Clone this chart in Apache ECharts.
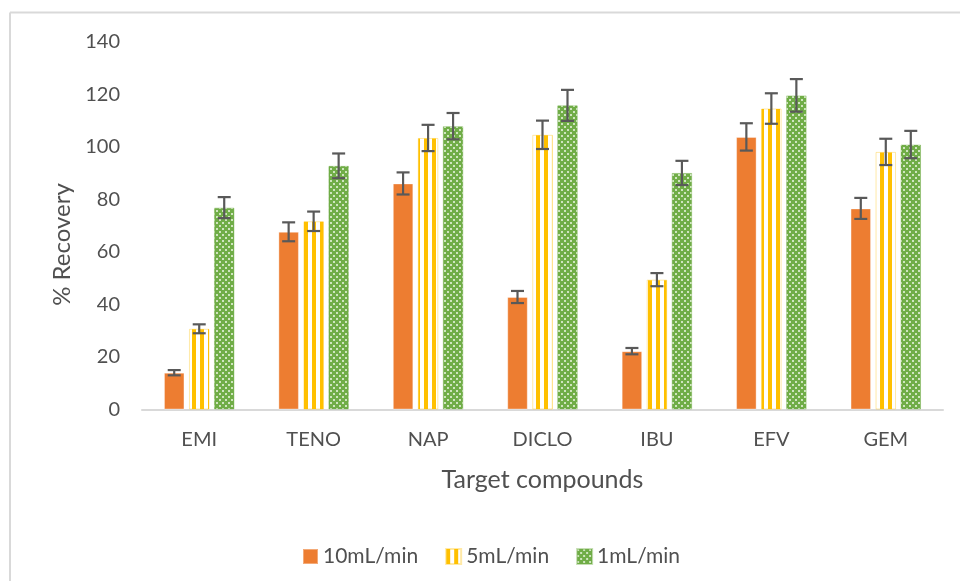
<!DOCTYPE html>
<html>
<head>
<meta charset="utf-8">
<script src="https://cdn.jsdelivr.net/npm/echarts@6/dist/echarts.min.js"></script>
<style>html,body{margin:0;padding:0;background:#fff}#c{width:960px;height:581px}</style>
</head>
<body>
<div id="c"></div>
<script>
const categories = ['EMI', 'TENO', 'NAP', 'DICLO', 'IBU', 'EFV', 'GEM'];
const seriesNames = ['10mL/min', '5mL/min', '1mL/min'];
const rec10 = [14, 67.6, 86, 42.8, 22.2, 103.7, 76.5];
const err10 = [1, 3.6, 4.2, 2.3, 1.2, 5.2, 4];
const rec5 = [30.7, 71.6, 103.3, 104.5, 49.4, 114.5, 98];
const err5 = [1.7, 3.7, 5, 5.4, 2.5, 5.8, 5];
const rec1 = [76.8, 92.7, 107.8, 115.7, 90, 119.5, 100.8];
const err1 = [4, 4.7, 5, 5.9, 4.6, 6.2, 5.2];
const yTicks = { min: 0, max: 140, interval: 20 };

const TXT = '#505050';
const FONT = 'Lato';

function stripePattern() {
  const c = document.createElement('canvas');
  c.width = 8; c.height = 8;
  const g = c.getContext('2d');
  g.fillStyle = '#ffffff'; g.fillRect(0, 0, 8, 8);
  g.fillStyle = '#FFC000'; g.fillRect(0, 0, 4, 8);
  return c;
}
function dotPattern() {
  const c = document.createElement('canvas');
  c.width = 6; c.height = 6;
  const g = c.getContext('2d');
  g.fillStyle = '#70AD47'; g.fillRect(0, 0, 6, 6);
  g.fillStyle = '#cfe5bf';
  g.fillRect(0, 0, 2, 2);
  g.fillRect(3, 3, 2, 2);
  return c;
}

const BAR_W = 20.5;
const BAR_GAP_PX = 4.5;
const step = BAR_W + BAR_GAP_PX;

const colors = [
  '#ED7D31',
  { image: stripePattern(), repeat: 'repeat' },
  { image: dotPattern(), repeat: 'repeat' }
];
const vals = [rec10, rec5, rec1];
const errs = [err10, err5, err1];

function errSeries(k) {
  const offset = (k - 1) * step;
  return {
    type: 'custom',
    z: 10,
    silent: true,
    data: vals[k].map((v, i) => [i, v, errs[k][i]]),
    renderItem: function (params, api) {
      const i = api.value(0), v = api.value(1), e = api.value(2);
      const t = api.coord([i, v + e]);
      const b = api.coord([i, v - e]);
      const x = t[0] + offset;
      const hw = 6.5;
      const st = { stroke: '#595959', lineWidth: 2.2 };
      return {
        type: 'group',
        children: [
          { type: 'line', shape: { x1: x, y1: t[1], x2: x, y2: b[1] }, style: st },
          { type: 'line', shape: { x1: x - hw, y1: t[1], x2: x + hw, y2: t[1] }, style: st },
          { type: 'line', shape: { x1: x - hw, y1: b[1], x2: x + hw, y2: b[1] }, style: st }
        ]
      };
    }
  };
}

const barSeries = seriesNames.map((n, k) => ({
  name: n,
  type: 'bar',
  data: vals[k],
  barWidth: BAR_W,
  barGap: (BAR_GAP_PX / BAR_W * 100) + '%',
  itemStyle: {
    color: colors[k],
    borderColor: k === 0 ? 'rgba(255,255,255,0.35)' : (k === 1 ? 'rgba(255,192,0,0.35)' : 'rgba(112,173,71,0.4)'),
    borderWidth: 1
  }
}));

const chart = echarts.init(document.getElementById('c'), null, { renderer: 'canvas' });
chart.setOption({
  animation: false,
  textStyle: { fontFamily: FONT, color: TXT },
  grid: { left: 142, right: 17, top: 41.5, bottom: 171.5 },
  legend: {
    data: seriesNames,
    left: 297,
    top: 541,
    itemWidth: 15,
    itemHeight: 15,
    itemGap: 27,
    icon: 'rect',
    textStyle: { fontFamily: FONT, fontSize: 21, color: TXT }
  },
  xAxis: {
    type: 'category',
    data: categories,
    name: 'Target compounds',
    nameLocation: 'middle',
    nameGap: 58,
    nameTextStyle: { fontFamily: FONT, fontSize: 25, color: TXT },
    axisLine: { lineStyle: { color: '#d9d9d9', width: 2 } },
    axisTick: { show: false },
    axisLabel: { fontFamily: FONT, fontSize: 20, color: TXT, margin: 20 }
  },
  yAxis: {
    type: 'value',
    min: yTicks.min,
    max: yTicks.max,
    interval: yTicks.interval,
    name: '% Recovery',
    nameLocation: 'middle',
    nameGap: 68,
    nameTextStyle: { fontFamily: FONT, fontSize: 24, color: TXT, padding: [0, 38, 0, 0] },
    axisLine: { show: false },
    axisTick: { show: false },
    splitLine: { show: false },
    axisLabel: { fontFamily: FONT, fontSize: 20, color: TXT, margin: 22 }
  },
  graphic: [
    { type: 'line', silent: true, shape: { x1: 10, y1: 12.5, x2: 960, y2: 12.5 }, style: { stroke: '#d9d9d9', lineWidth: 2 } },
    { type: 'line', silent: true, shape: { x1: 10, y1: 12.5, x2: 10, y2: 581 }, style: { stroke: '#d9d9d9', lineWidth: 2 } }
  ],
  series: barSeries.concat([errSeries(0), errSeries(1), errSeries(2)])
});
</script>
</body>
</html>
